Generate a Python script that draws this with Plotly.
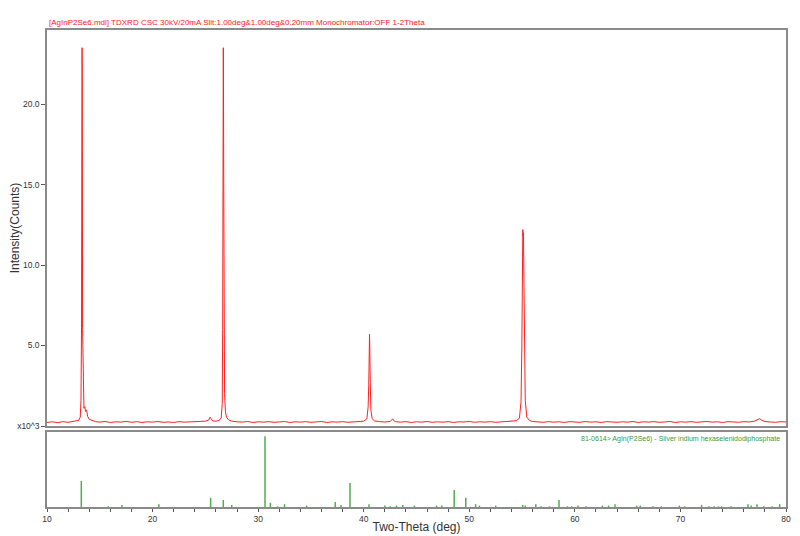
import plotly.graph_objects as go

# ---------------- data ----------------
# measured pattern: two-theta (deg) and intensity (x10^3 counts)
two_theta = [
    10.0, 10.5, 11.0, 11.5, 12.0, 12.5, 12.8, 13.0, 13.15, 13.22, 13.27, 13.30, 13.32, 13.34, 13.37,
    13.42, 13.5, 13.58, 13.65, 13.75, 13.85, 14.0, 14.3, 14.6, 15.0, 15.5, 16.0, 16.5, 17.0, 17.5,
    18.0, 18.5, 19.0, 19.5, 20.0, 20.5, 21.0, 21.5, 22.0, 22.5, 23.0, 23.5, 24.0, 24.5, 25.0,
    25.3, 25.45, 25.55, 25.7, 26.0, 26.3, 26.5, 26.6, 26.64, 26.66, 26.68, 26.70, 26.72, 26.74, 26.77,
    26.82, 26.9, 27.0, 27.2, 27.5, 28.0, 28.5, 29.0, 29.5, 30.0, 30.5, 31.0, 31.5, 32.0, 32.5,
    33.0, 33.5, 34.0, 34.5, 35.0, 35.5, 36.0, 36.5, 37.0, 37.5, 38.0, 38.5, 39.0, 39.5, 40.0,
    40.3, 40.42, 40.48, 40.52, 40.55, 40.58, 40.62, 40.68, 40.8, 41.0, 41.5, 42.0, 42.5, 42.65, 42.75,
    42.85, 43.0, 43.5, 44.0, 44.5, 45.0, 45.5, 46.0, 46.5, 47.0, 47.5, 48.0, 48.5, 49.0, 49.5,
    50.0, 50.5, 51.0, 51.5, 52.0, 52.5, 53.0, 53.5, 54.0, 54.5, 54.75, 54.9, 54.98, 55.03, 55.07,
    55.10, 55.13, 55.17, 55.22, 55.3, 55.45, 55.7, 56.0, 56.5, 57.0, 57.5, 58.0, 58.5, 59.0, 59.5,
    60.0, 60.5, 61.0, 61.5, 62.0, 62.5, 63.0, 63.5, 64.0, 64.5, 65.0, 65.5, 66.0, 66.5, 67.0,
    67.5, 68.0, 68.5, 69.0, 69.5, 70.0, 70.5, 71.0, 71.5, 72.0, 72.5, 73.0, 73.5, 74.0, 74.5,
    75.0, 75.5, 76.0, 76.5, 77.0, 77.3, 77.5, 77.7, 78.0, 78.5, 79.0, 79.5, 80.0,
]
intensity_k = [
    0.22, 0.26, 0.21, 0.27, 0.23, 0.28, 0.30, 0.35, 0.55, 1.6, 6.1, 22.0, 23.5, 21.9, 6.0,
    2.2, 1.1, 1.2, 0.9, 1.0, 0.6, 0.42, 0.33, 0.27, 0.24, 0.28, 0.22, 0.26, 0.24, 0.29,
    0.23, 0.27, 0.22, 0.26, 0.24, 0.28, 0.23, 0.25, 0.22, 0.27, 0.24, 0.26, 0.25, 0.29, 0.30,
    0.36, 0.55, 0.45, 0.32, 0.30, 0.34, 0.5, 1.4, 6.0, 11.0, 19.8, 23.5, 20.5, 15.4, 6.0,
    2.0, 0.9, 0.55, 0.38, 0.30, 0.26, 0.24, 0.28, 0.22, 0.26, 0.24, 0.27, 0.23, 0.25, 0.28,
    0.22, 0.26, 0.24, 0.27, 0.23, 0.25, 0.28, 0.22, 0.26, 0.24, 0.27, 0.23, 0.26, 0.25, 0.30,
    0.45, 1.2, 2.6, 4.9, 5.7, 4.8, 2.7, 1.0, 0.45, 0.32, 0.27, 0.25, 0.28, 0.35, 0.45,
    0.33, 0.27, 0.24, 0.27, 0.22, 0.26, 0.24, 0.28, 0.23, 0.26, 0.24, 0.27, 0.22, 0.26, 0.25,
    0.28, 0.23, 0.26, 0.24, 0.27, 0.23, 0.26, 0.25, 0.28, 0.33, 0.5, 1.5, 5.0, 10.0, 12.2,
    11.8, 12.0, 10.0, 5.0, 1.6, 0.55, 0.34, 0.28, 0.25, 0.23, 0.27, 0.24, 0.26, 0.22, 0.27,
    0.25, 0.23, 0.28, 0.24, 0.26, 0.22, 0.27, 0.25, 0.23, 0.26, 0.24, 0.28, 0.22, 0.26, 0.24,
    0.27, 0.23, 0.25, 0.28, 0.22, 0.26, 0.24, 0.27, 0.23, 0.25, 0.28, 0.24, 0.26, 0.22, 0.27,
    0.25, 0.23, 0.27, 0.25, 0.30, 0.38, 0.45, 0.36, 0.28, 0.25, 0.23, 0.27, 0.25,
]

# reference card 81-0614 stick pattern: two-theta (deg) and relative intensity (%)
ref_two_theta = [
    13.25, 15.8, 17.1, 20.6, 25.5, 26.7, 27.5, 30.65, 31.16, 31.85, 32.5, 34.6, 37.3, 37.85, 38.7,
    40.5, 42.0, 42.5, 43.1, 43.7, 44.8, 46.9, 47.4, 48.57, 49.67, 50.6, 50.96, 52.5, 55.06, 55.3,
    56.3, 56.8, 57.6, 58.5, 59.3, 59.7, 60.3, 61.05, 62.6, 63.2, 63.8, 65.85, 66.2, 67.4, 68.2,
    69.9, 70.4, 72.0, 72.7, 73.2, 73.6, 73.9, 74.8, 76.4, 76.7, 77.25, 77.9, 78.7, 79.4,
]
ref_rel_int = [
    37, 1, 3, 4, 13, 10, 3, 100, 6, 1, 4, 2, 7, 3, 34,
    4, 2, 1, 2, 3, 2, 2, 2, 24, 13, 4, 2, 2, 3, 2,
    4, 1, 1, 10, 1, 1, 2, 1, 2, 2, 4, 2, 2, 1, 1,
    2, 1, 3, 1, 1, 1, 1, 1, 4, 2, 4, 1, 1, 4,
]

y_tick_vals = [0, 5, 10, 15, 20]
y_tick_text = ["x10^3", "5.0", "10.0", "15.0", "20.0"]
x_tick_vals = [10, 20, 30, 40, 50, 60, 70, 80]

title_text = ("[AgInP2Se6.mdi] TDXRD CSC 30kV/20mA Slit:1.00deg&1.00deg&0.20mm "
              "Monochromator:OFF 1-2Theta")
card_text = "81-0614> AgIn(P2Se6) - Silver indium hexaselenidodiphosphate"

# ---------------- figure ----------------
FONT = "Liberation Sans, Arial, sans-serif"
FRAME = "#8a8a8a"

stick_x, stick_y = [], []
for t, r in zip(ref_two_theta, ref_rel_int):
    stick_x += [t, t, None]
    stick_y += [0, r, None]

fig = go.Figure()
fig.add_trace(go.Scatter(
    x=two_theta, y=intensity_k, mode="lines",
    line=dict(color="#ff2020", width=1), xaxis="x", yaxis="y", showlegend=False,
    hoverinfo="x+y",
))
fig.add_trace(go.Scatter(
    x=stick_x, y=stick_y, mode="lines",
    line=dict(color="#4cb04c", width=1.5), xaxis="x2", yaxis="y2", showlegend=False,
))

# page body has an 8px margin, so the figure is sized to the visible 792x528 area
W, H = 792, 528
ML, MR, MT, MB = 39, 14, 22, 29
plot_h = H - MT - MB
main_bottom = (507 - 426) / plot_h
sub_top = (507 - 432) / plot_h

fig.update_layout(
    width=W, height=H,
    margin=dict(l=ML, r=MR, t=MT, b=MB, autoexpand=False),
    paper_bgcolor="white", plot_bgcolor="white",
    font=dict(family=FONT, size=8, color="#333333"),
    xaxis=dict(
        domain=[0, 1], range=[10, 80], anchor="y", automargin=False,
        showticklabels=False, ticks="", showgrid=False, zeroline=False,
        showline=True, linecolor=FRAME, linewidth=1.5, mirror=True,
    ),
    yaxis=dict(
        domain=[main_bottom, 1], range=[0, 24.6], anchor="x", automargin=False,
        tickvals=y_tick_vals, ticktext=y_tick_text, ticks="outside", ticklen=4,
        tickcolor="#555555", tickfont=dict(size=8.5, color="#333333"),
        showgrid=False, zeroline=False,
        showline=True, linecolor=FRAME, linewidth=1.5, mirror=True,
        title=dict(text="Intensity(Counts)", font=dict(size=12, color="#333333"), standoff=6),
    ),
    xaxis2=dict(
        domain=[0, 1], range=[10, 80], anchor="y2", automargin=False,
        tickvals=x_tick_vals, ticks="outside", ticklen=3, tickcolor="#555555",
        minor=dict(dtick=2, ticks="outside", ticklen=3, tickcolor="#555555"),
        tickfont=dict(size=8.5, color="#333333"),
        showgrid=False, zeroline=False,
        showline=True, linecolor=FRAME, linewidth=1.5, mirror=True,
        title=dict(text="Two-Theta (deg)", font=dict(size=12, color="#333333"), standoff=0),
    ),
    yaxis2=dict(
        domain=[0, sub_top], range=[0, 106], anchor="x2", automargin=False,
        showticklabels=False, ticks="", showgrid=False, zeroline=False,
        showline=True, linecolor=FRAME, linewidth=1.5, mirror=True,
    ),
    annotations=[
        dict(text=title_text, xref="paper", yref="paper", x=0, y=1, xanchor="left",
             yanchor="bottom", yshift=1, showarrow=False,
             font=dict(family=FONT, size=8, color="#ff2020")),
        dict(text=card_text, xref="paper", yref="paper", x=1, y=sub_top, xanchor="right",
             yanchor="top", xshift=-4, yshift=-1, showarrow=False,
             font=dict(family=FONT, size=7, color="#3a9a3a")),
    ],
)

fig.write_html("out.html")
